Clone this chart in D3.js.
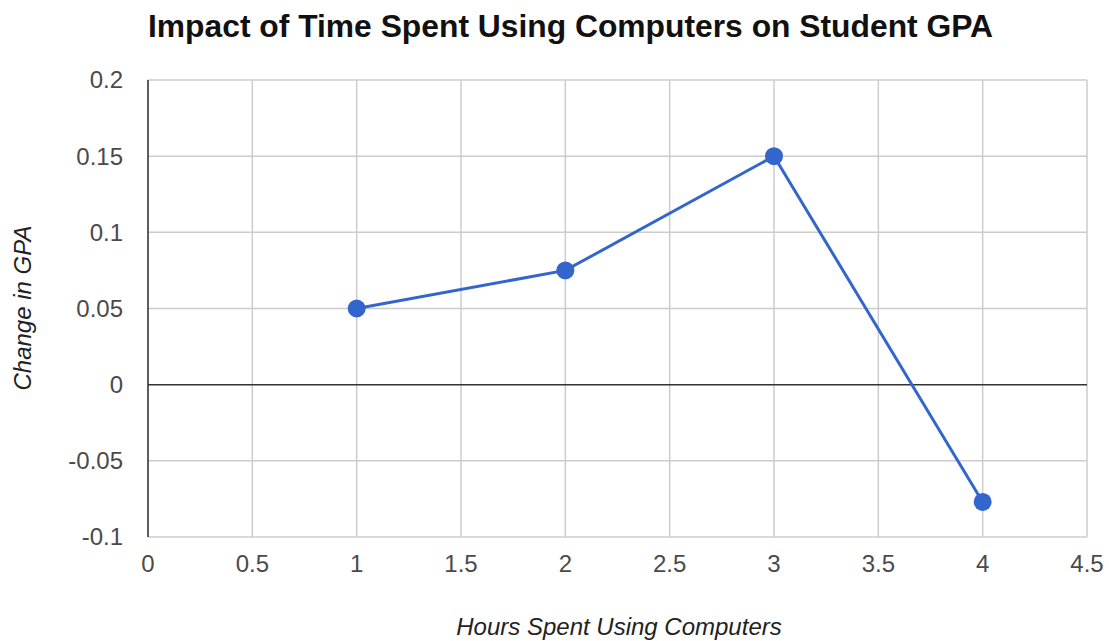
<!DOCTYPE html>
<html><head><meta charset="utf-8">
<script src="https://cdn.jsdelivr.net/npm/d3@7"></script>
<style>body{margin:0;background:#fff;} text{font-family:"Liberation Sans",Arial,sans-serif;}</style>
</head><body>
<svg id="c" width="1109" height="641"></svg>
<script>
const hours = [1, 2, 3, 4];
const gpaChange = [0.05, 0.075, 0.15, -0.077];
const xTicks = [0, 0.5, 1, 1.5, 2, 2.5, 3, 3.5, 4, 4.5];
const yTicks = [-0.1, -0.05, 0, 0.05, 0.1, 0.15, 0.2];
const title = "Impact of Time Spent Using Computers on Student GPA";
const xTitle = "Hours Spent Using Computers";
const yTitle = "Change in GPA";

const svg = d3.select("#c");
const m = {l:148, r:1087, t:80, b:537};
const x = d3.scaleLinear().domain([0,4.5]).range([m.l, m.r]);
const y = d3.scaleLinear().domain([-0.1,0.2]).range([m.b, m.t]);

svg.append("g").selectAll("line.v").data(xTicks).join("line")
  .attr("x1", d=>x(d)).attr("x2", d=>x(d)).attr("y1", m.t).attr("y2", m.b)
  .attr("stroke", "#cccccc").attr("stroke-width", 1.5);
svg.append("g").selectAll("line.h").data(yTicks).join("line")
  .attr("x1", m.l).attr("x2", m.r).attr("y1", d=>y(d)).attr("y2", d=>y(d))
  .attr("stroke", d=> d===0 ? "#333333" : "#cccccc").attr("stroke-width", 1.5);
svg.append("line").attr("x1", x(0)).attr("x2", x(0)).attr("y1", m.t).attr("y2", m.b)
  .attr("stroke", "#333333").attr("stroke-width", 1.5);

const fmt = d => String(+d.toFixed(2));
svg.append("g").selectAll("text").data(yTicks).join("text")
  .attr("x", 123).attr("y", d=>y(d)).attr("dy", "0.35em").attr("text-anchor","end")
  .attr("font-size", 24).attr("fill", "#4a4a4a").text(fmt);
svg.append("g").selectAll("text").data(xTicks).join("text")
  .attr("x", d=>x(d)).attr("y", 572).attr("text-anchor","middle")
  .attr("font-size", 24).attr("fill", "#4a4a4a").text(fmt);

const pts = hours.map((h,i)=>[h, gpaChange[i]]);
svg.append("path").datum(pts)
  .attr("d", d3.line().x(d=>x(d[0])).y(d=>y(d[1])))
  .attr("fill","none").attr("stroke","#3366cc").attr("stroke-width",3);
svg.append("g").selectAll("circle").data(pts).join("circle")
  .attr("cx", d=>x(d[0])).attr("cy", d=>y(d[1])).attr("r", 9).attr("fill","#3366cc");

svg.append("text").attr("x", 148).attr("y", 37).attr("font-size", 31.8).attr("font-weight","bold")
  .attr("fill","#111").text(title);
svg.append("text").attr("x", 619).attr("y", 635).attr("text-anchor","middle")
  .attr("font-size", 24).attr("font-style","italic").attr("fill","#222").text(xTitle);
svg.append("text").attr("transform","translate(31,308) rotate(-90)").attr("text-anchor","middle")
  .attr("font-size", 24).attr("font-style","italic").attr("fill","#222").text(yTitle);
</script>
</body></html>
